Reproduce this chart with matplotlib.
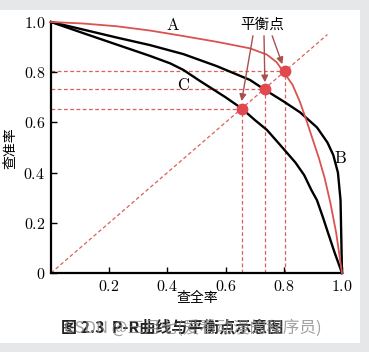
import matplotlib
matplotlib.use('Agg')
import matplotlib.pyplot as plt
from matplotlib.patches import Rectangle

plt.rcParams['mathtext.fontset'] = 'cm'
cjk = ['Noto Sans CJK SC', 'DejaVu Sans']

# 曲线数据
a_x = [0, 0.11, 0.226, 0.34, 0.455, 0.57, 0.684, 0.742, 0.775, 0.80, 0.83, 0.856, 0.88, 0.90,
       0.92, 0.94, 0.96, 0.98, 1.0]
a_y = [1.0, 0.994, 0.983, 0.966, 0.944, 0.921, 0.895, 0.87, 0.84, 0.80, 0.75, 0.68, 0.60, 0.53,
       0.46, 0.38, 0.28, 0.16, 0.0]
b_x = [0, 0.11, 0.226, 0.34, 0.455, 0.57, 0.684, 0.735, 0.80, 0.856, 0.914, 0.95, 0.97, 0.986,
       0.995, 1.0]
b_y = [1.0, 0.97, 0.938, 0.908, 0.872, 0.824, 0.769, 0.73, 0.683, 0.64, 0.58, 0.52, 0.47, 0.40,
       0.29, 0.0]
c_x = [0, 0.11, 0.226, 0.34, 0.41, 0.455, 0.512, 0.60, 0.656, 0.70, 0.742, 0.78, 0.81, 0.84,
       0.87, 0.895, 0.914, 0.935, 0.952, 0.975, 1.0]
c_y = [1.0, 0.956, 0.91, 0.865, 0.835, 0.809, 0.765, 0.70, 0.655, 0.61, 0.57, 0.52, 0.48, 0.44,
       0.39, 0.33, 0.29, 0.22, 0.16, 0.08, 0.0]

# 平衡点
bep = [0.655, 0.735, 0.803]
arrow_start = [(0.694, 0.945), (0.732, 0.945), (0.76, 0.945)]
arrow_end = [(0.655, 0.685), (0.735, 0.76), (0.795, 0.832)]

ticks = [0, 0.2, 0.4, 0.6, 0.8, 1.0]
tick_labels = ['0', '0.2', '0.4', '0.6', '0.8', '1.0']

red = '#d9534f'
dash_red = '#d8615c'
dred = '#a8504c'

fig = plt.figure(figsize=(3.69, 3.52), dpi=100)
fig.patch.set_facecolor('#e6e7e9')
fig.patches.append(Rectangle((0, 1 - 343 / 352), 360 / 369, (343 - 10) / 352,
                             transform=fig.transFigure, facecolor='white',
                             edgecolor='none', zorder=-10))

ax = fig.add_axes([51 / 369, 1 - 273 / 352, 291 / 369, 251 / 352])
ax.set_facecolor('none')
ax.set_xlim(0, 1)
ax.set_ylim(0, 1)

# 辅助虚线
ax.plot([0, 0.95], [0, 0.95], color=dash_red, lw=0.9, ls=(0, (3, 2)), zorder=1)
for p in bep:
    ax.plot([0, p], [p, p], color=dash_red, lw=0.9, ls=(0, (3, 2)), zorder=1)
    ax.plot([p, p], [0, p], color=dash_red, lw=0.9, ls=(0, (3, 2)), zorder=1)

ax.plot(a_x, a_y, color=red, lw=1.3, clip_on=False, zorder=3)
ax.plot(b_x, b_y, color='black', lw=1.7, clip_on=False, zorder=2)
ax.plot(c_x, c_y, color='black', lw=1.7, clip_on=False, zorder=2)
ax.plot(bep, bep, 'o', color='#e04a4f', ms=7.5, zorder=4)

for s, e in zip(arrow_start, arrow_end):
    ax.annotate('', xy=e, xytext=s,
                arrowprops=dict(arrowstyle='-|>', color=dred, lw=1.0,
                                mutation_scale=10, shrinkA=0, shrinkB=0))
ax.text(0.725, 0.99, '平衡点', family=cjk, fontsize=10.5, ha='center', va='center')

ax.text(0.42, 0.99, r'$\mathrm{A}$', fontsize=12, ha='center', va='center')
ax.text(0.455, 0.75, r'$\mathrm{C}$', fontsize=12, ha='center', va='center')
ax.text(0.993, 0.46, r'$\mathrm{B}$', fontsize=12, ha='center', va='center')

ax.set_xticks(ticks[1:])
ax.set_xticklabels(['$' + t + '$' for t in tick_labels[1:]], fontsize=11.5)
ax.set_yticks(ticks)
ax.set_yticklabels(['$' + t + '$' for t in tick_labels], fontsize=11.5)
ax.tick_params(direction='in', length=4, width=1.0, pad=4)
for side in ['top', 'right']:
    ax.spines[side].set_visible(False)
for side in ['left', 'bottom']:
    ax.spines[side].set_linewidth(1.6)

fig.text(10 / 369, 1 - 148 / 352, '查准率', family=cjk, fontsize=10,
         rotation=90, ha='center', va='center')
fig.text(197 / 369, 1 - 298 / 352, '查全率', family=cjk, fontsize=10,
         ha='center', va='center')

# 图题和水印
fig.text(172 / 369, 1 - 328 / 352, '图 2.3  P-R曲线与平衡点示意图', family=cjk,
         fontsize=11.5, fontweight='bold', ha='center', va='center', color='#222222')
fig.text(193 / 369, 1 - 328 / 352, 'CSDN @三月七(爱看动漫的程序员)', family=cjk,
         fontsize=12, ha='center', va='center', color='#8a8a8a', alpha=0.8)

fig.savefig('out.png', dpi=100, facecolor=fig.get_facecolor())
